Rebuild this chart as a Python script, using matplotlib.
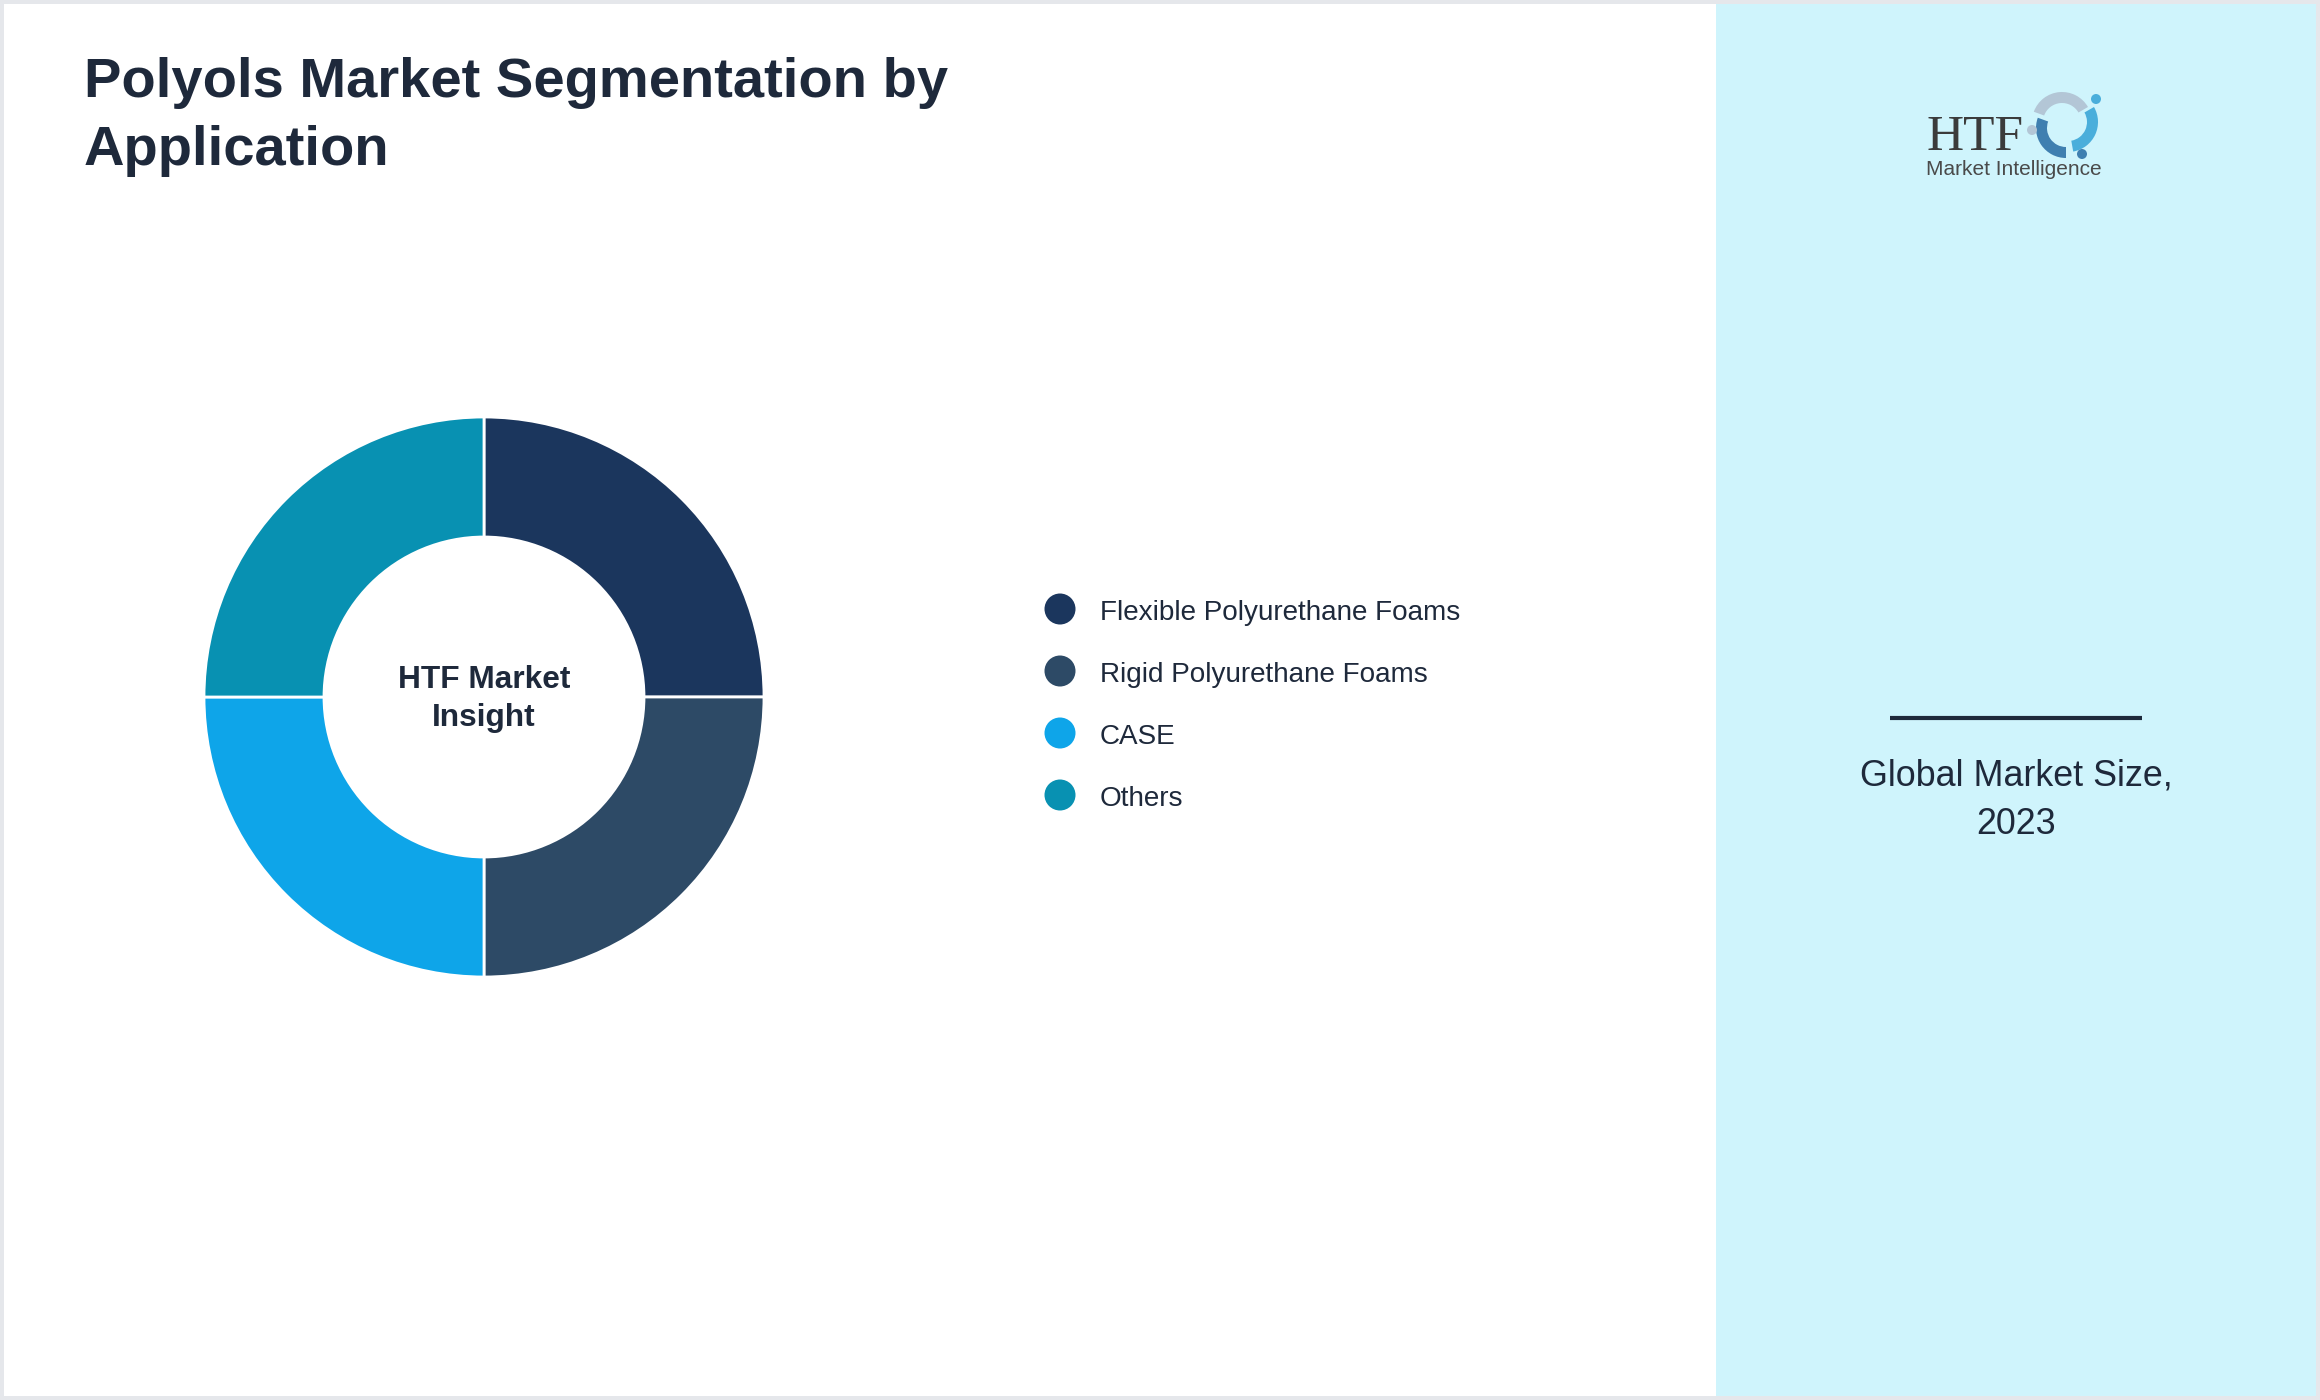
import matplotlib.pyplot as plt
from matplotlib.patches import Rectangle, Wedge, Circle

plt.rcParams['font.family'] = ['Liberation Sans', 'DejaVu Sans']

# data
categories = ["Flexible Polyurethane Foams", "Rigid Polyurethane Foams", "CASE", "Others"]
shares = [25, 25, 25, 25]
colors = ["#1b365d", "#2d4a66", "#0ea5e9", "#0891b2"]

title_lines = ["Polyols Market Segmentation by", "Application"]
center_lines = ["HTF Market", "Insight"]
side_lines = ["Global Market Size,", "2023"]

W, H = 2320, 1400
text_col = "#1e293b"

fig = plt.figure(figsize=(W / 100, H / 100), dpi=100, facecolor="#e5e7eb")

# base axes in pixel coordinates (y down)
base = fig.add_axes([0, 0, 1, 1])
base.set_xlim(0, W)
base.set_ylim(H, 0)
base.axis("off")

base.add_patch(Rectangle((4, 4), W - 8, H - 8, facecolor="white", edgecolor="none"))
base.add_patch(Rectangle((1716, 4), W - 4 - 1716, H - 8, facecolor="#cff4fc", edgecolor="none"))

# title
for i, line in enumerate(title_lines):
    base.text(84, 97 + i * 68, line, fontsize=40.4, fontweight="bold", color=text_col,
              ha="left", va="baseline")

# donut
cx, cy, R = 484, 697, 280
half = 300
ax = fig.add_axes([(cx - half) / W, (H - cy - half) / H, 2 * half / W, 2 * half / H])
ax.pie(shares, colors=colors, startangle=90, counterclock=False, radius=1,
       wedgeprops=dict(width=1 - 160 / R, edgecolor="white", linewidth=2))
ax.set_xlim(-half / R, half / R)
ax.set_ylim(-half / R, half / R)
ax.set_aspect("equal")
ax.axis("off")

for i, line in enumerate(center_lines):
    base.text(cx, 688 + i * 38, line, fontsize=22.8, fontweight="bold", color=text_col,
              ha="center", va="baseline")

# legend
for i, (lab, col) in enumerate(zip(categories, colors)):
    y = 609 + i * 62
    base.add_patch(Circle((1060, y), 15.5, facecolor=col, edgecolor="none"))
    base.text(1100, y + 11, lab, fontsize=20.1, color=text_col, ha="left", va="baseline")

# side panel
base.plot([1890, 2142], [718, 718], color=text_col, linewidth=3, solid_capstyle="butt")
for i, line in enumerate(side_lines):
    base.text(2016, 785 + i * 49, line, fontsize=25.8, color=text_col,
              ha="center", va="baseline")

# logo
base.text(1926, 150, "HTF", fontsize=37, family="Liberation Serif", color="#3b3b3b",
          ha="left", va="baseline")
base.text(1926, 175, "Market Intelligence", fontsize=15, color="#4a4a4a",
          ha="left", va="baseline")
lx, ly = 2062, 122
base.add_patch(Wedge((lx, ly), 30, 200, 330, width=11, facecolor="#b3c6d6", edgecolor="none"))
base.add_patch(Wedge((lx + 6, ly), 30, 330, 80, width=11, facecolor="#4aaedb", edgecolor="none"))
base.add_patch(Wedge((lx + 4, ly + 6), 30, 90, 200, width=11, facecolor="#3f7fb0", edgecolor="none"))
base.add_patch(Circle((lx + 34, ly - 23), 5, facecolor="#4aaedb", edgecolor="none"))
base.add_patch(Circle((lx - 30, ly + 8), 5, facecolor="#b3c6d6", edgecolor="none"))
base.add_patch(Circle((lx + 20, ly + 32), 5, facecolor="#3f7fb0", edgecolor="none"))

fig.savefig("out.png", dpi=100, facecolor=fig.get_facecolor())
